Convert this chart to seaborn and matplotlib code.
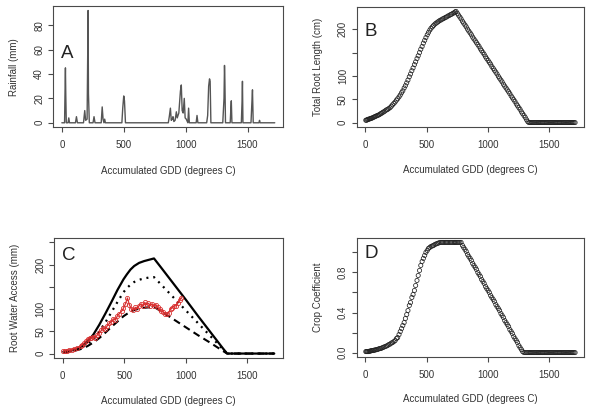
import matplotlib
matplotlib.use("Agg")
import matplotlib.pyplot as plt
import seaborn as sns
import pandas as pd

# ---------------- data ----------------
x_ticks = [0, 500, 1000, 1500]
x_tick_labels = ["0", "500", "1000", "1500"]
x_label = "Accumulated GDD (degrees C)"

# Panel A: daily rainfall against accumulated GDD
rain_gdd = [0, 22, 27, 29, 32, 36, 50, 56, 62, 110, 118, 126, 175, 185, 192, 204, 210, 212, 215, 222,
            252, 260, 268, 318, 326, 333, 340, 346, 352, 485, 492, 500, 506, 514,
            860, 868, 877, 884, 892, 898, 905, 915, 925, 932, 945, 958, 965, 972, 980, 989, 996, 1005,
            1018, 1024, 1030, 1085, 1092, 1099, 1170, 1178, 1186, 1193, 1198, 1204,
            1300, 1310, 1314, 1317, 1322, 1360, 1366, 1369, 1374, 1450, 1456, 1459, 1463,
            1528, 1535, 1540, 1546, 1592, 1597, 1602, 1720]
rain_mm = [0, 0, 34, 45, 22, 0, 0, 4, 0, 0, 5, 0, 0, 10, 2, 3, 68, 92, 24, 0,
           0, 5, 0, 0, 13, 3, 0, 3, 0, 0, 12, 22, 18, 0,
           0, 5, 12, 2, 3, 5, 1, 2, 9, 4, 8, 26, 31, 10, 8, 20, 4, 3,
           0, 12, 0, 0, 6, 0, 0, 6, 30, 36, 34, 0,
           0, 20, 47, 35, 0, 0, 13, 18, 0, 0, 18, 34, 0,
           0, 16, 27, 0, 0, 2, 0, 0]

# Panels B and D: daily accumulated GDD
gdd = [3, 9, 15, 21, 28, 35, 42, 49, 56, 64, 72, 80, 88, 97, 106, 115, 124, 133, 142, 151,
       161, 171, 181, 191, 202, 212, 222, 233, 243, 254, 264, 275, 285, 296, 306, 317, 327, 338, 348, 359,
       369, 380, 390, 401, 411, 422, 432, 443, 453, 464, 474, 485, 495, 506, 516, 527, 537, 548, 558, 569,
       579, 590, 600, 611, 621, 632, 642, 653, 663, 674, 684, 695, 705, 716, 726, 734, 742,
       752, 762, 773, 783, 794, 804, 815, 825, 836, 846, 857, 867, 878, 888, 899, 909, 920, 930, 941, 951,
       962, 972, 983, 993, 1004, 1014, 1025, 1035, 1046, 1056, 1067, 1077, 1088, 1098, 1109, 1119, 1130,
       1140, 1151, 1161, 1172, 1182, 1193, 1203, 1214, 1224, 1235, 1245, 1256, 1266, 1277, 1287, 1298, 1308,
       1319, 1329, 1338,
       1347, 1356, 1365, 1374, 1383, 1392, 1401, 1410, 1418, 1427, 1436, 1445, 1453, 1462, 1471, 1480, 1488,
       1497, 1506, 1515, 1523, 1532, 1541, 1550, 1558, 1567, 1576, 1585, 1593, 1602, 1611, 1620, 1628, 1637,
       1646, 1655, 1663, 1672, 1681, 1690, 1698, 1707, 1716]

root_length = [5, 5, 6, 7, 7, 8, 9, 9, 10, 11, 12, 13, 14, 15, 16, 17, 19, 20, 22, 23,
               25, 27, 28, 30, 32, 35, 38, 41, 44, 48, 51, 55, 59, 64, 68, 74, 79, 85, 91, 98,
               104, 111, 117, 124, 130, 137, 143, 150, 157, 163, 170, 176, 182, 188, 193, 198, 202, 205, 208, 211,
               213, 215, 217, 219, 220, 222, 223, 225, 226, 228, 229, 231, 232, 234, 235, 237, 238,
               234, 230, 226, 222, 217, 213, 209, 205, 200, 196, 192, 188, 183, 179, 175, 171, 167, 163, 158, 154,
               150, 146, 141, 137, 133, 129, 125, 120, 116, 112, 108, 104, 99, 95, 91, 87, 82,
               78, 74, 70, 66, 62, 57, 53, 49, 45, 40, 36, 32, 28, 23, 19, 15, 11,
               6, 2, 0,
               0, 0, 0, 0, 0, 0, 0, 0, 0, 0, 0, 0, 0, 0, 0, 0, 0,
               0, 0, 0, 0, 0, 0, 0, 0, 0, 0, 0, 0, 0, 0, 0, 0, 0,
               0, 0, 0, 0, 0, 0, 0, 0, 0]

crop_coef = [0.01, 0.01, 0.01, 0.01, 0.01, 0.015, 0.015, 0.02, 0.02, 0.02, 0.025, 0.025, 0.03, 0.03,
             0.035, 0.04, 0.04, 0.045, 0.05, 0.055,
             0.06, 0.065, 0.07, 0.08, 0.085, 0.095, 0.10, 0.11, 0.12, 0.14, 0.15, 0.18, 0.21, 0.24, 0.27,
             0.30, 0.34, 0.38, 0.42, 0.47,
             0.50, 0.55, 0.58, 0.62, 0.67, 0.72, 0.77, 0.82, 0.87, 0.91, 0.94, 0.97, 1.00, 1.02, 1.04, 1.05,
             1.06, 1.065, 1.07, 1.08,
             1.085, 1.09, 1.095, 1.10, 1.10, 1.10, 1.10, 1.10, 1.10, 1.10, 1.10, 1.10, 1.10, 1.10, 1.10,
             1.10, 1.10,
             1.10, 1.10, 1.10, 1.10, 1.07, 1.05, 1.03, 1.01, 0.98, 0.96, 0.94, 0.92, 0.89, 0.87, 0.85, 0.83,
             0.80, 0.78, 0.76, 0.73,
             0.71, 0.69, 0.66, 0.64, 0.62, 0.60, 0.57, 0.55, 0.53, 0.51, 0.48, 0.46, 0.44, 0.42, 0.39, 0.37,
             0.35,
             0.32, 0.30, 0.28, 0.26, 0.23, 0.21, 0.19, 0.16, 0.14, 0.12, 0.10, 0.07, 0.05, 0.03, 0.01, 0.0,
             0.0, 0.0, 0.0, 0.0,
             0, 0, 0, 0, 0, 0, 0, 0, 0, 0, 0, 0, 0, 0, 0, 0, 0,
             0, 0, 0, 0, 0, 0, 0, 0, 0, 0, 0, 0, 0, 0, 0, 0, 0,
             0, 0, 0, 0, 0, 0, 0, 0, 0]

# Panel C: modelled root water access (three scenarios) and observed
access_gdd = [4, 52, 106, 158, 202, 249, 297, 346, 395, 444, 493, 520, 550, 580, 620, 660, 700, 741,
              800, 900, 1000, 1100, 1200, 1300, 1335, 1400, 1500, 1600, 1718]
access_high = [4, 6, 10, 17, 27, 43, 65, 90, 116, 143, 167, 178, 189, 197, 204, 208, 211, 214,
               193, 157, 121, 84, 48, 12, 0, 0, 0, 0, 0]
access_mid = [3, 5, 8, 14, 22, 33, 50, 70, 93, 116, 138, 147, 155, 161, 166, 169, 171, 172,
              155, 126, 97, 68, 39, 10, 0, 0, 0, 0, 0]
access_low = [2, 4, 7, 11, 17, 25, 35, 47, 60, 72, 84, 89, 94, 98, 101, 103, 104, 105,
              95, 77, 59, 41, 24, 6, 0, 0, 0, 0, 0]

obs_gdd = [4, 18, 34, 52, 72, 94, 118, 144, 158, 173, 187, 202, 218, 233, 249, 264, 281, 297, 313, 330,
           346, 362, 379, 395, 411, 428, 444, 460, 477, 493, 509, 525, 541, 557, 573, 589, 605, 620, 636,
           651, 666, 681, 696, 711, 726, 741, 756, 771, 786, 801, 816, 831, 846, 861, 876, 890, 905, 920,
           934, 949, 963]
obs_access = [5, 6, 6, 8, 9, 11, 13, 16, 20, 24, 28, 33, 36, 34, 38, 36, 42, 46, 52, 58,
              55, 63, 68, 72, 78, 76, 85, 90, 95, 102, 112, 125, 110, 100, 98, 104, 101, 108, 112,
              106, 115, 110, 113, 108, 112, 106, 110, 104, 100, 96, 93, 90, 88, 92, 100, 103, 108, 107,
              114, 120, 126]

# ---------------- style ----------------
sns.set_style("ticks")
plt.rcParams["font.family"] = ["Liberation Sans", "DejaVu Sans"]

TXT = "#333333"
AXC = "#4a4a4a"

fig = plt.figure(figsize=(5.96, 4.15), dpi=100)
fig.patch.set_facecolor("white")
W, H = 596.0, 415.0


def box(l, t, r, b):
    return [l / W, 1 - b / H, (r - l) / W, (b - t) / H]


axA = fig.add_axes(box(53.3, 6, 283.3, 127.3))
axB = fig.add_axes(box(357, 7, 584, 127))
axC = fig.add_axes(box(54.3, 238, 283, 358))
axD = fig.add_axes(box(357, 238, 584, 357))


def style(ax, ylim, yticks, ylabels, ylabel, letter, letter_y):
    ax.set_xlim(-69, 1789)
    ax.set_ylim(*ylim)
    ax.set_xticks(x_ticks)
    ax.set_xticklabels(x_tick_labels)
    ax.set_yticks(yticks)
    ax.set_yticklabels(ylabels, rotation=90, va="center")
    ax.tick_params(axis="both", direction="out", length=3.6, width=0.8, color=AXC,
                   labelcolor=TXT, labelsize=7)
    ax.tick_params(axis="x", pad=5.5)
    ax.tick_params(axis="y", pad=3.0)
    for s in ax.spines.values():
        s.set_visible(True)
        s.set_linewidth(0.8)
        s.set_color(AXC)
    ax.set_xlabel(x_label, fontsize=7, color=TXT)
    ax.set_ylabel(ylabel, fontsize=7, color=TXT)
    ax.xaxis.set_label_coords(0.5, -0.315)
    ax.yaxis.set_label_coords(-0.15, 0.5)
    ax.text(0.032, letter_y, letter, transform=ax.transAxes, fontsize=13.5,
            ha="left", va="center", color="#222222")
    ax.set_facecolor("white")


# A
dfA = pd.DataFrame({"gdd": rain_gdd, "rain": rain_mm})
sns.lineplot(data=dfA, x="gdd", y="rain", ax=axA, color="#555555", lw=1.0,
             estimator=None, sort=False)
style(axA, (-3.7, 95.7), [0, 20, 40, 60, 80], ["0", "20", "40", "60", "80"],
      "Rainfall (mm)", "A", 0.61)

# B
dfB = pd.DataFrame({"gdd": gdd, "root": root_length})
sns.scatterplot(data=dfB, x="gdd", y="root", ax=axB, marker="o", s=9,
                fc="none", ec="#222222", linewidth=0.55)
style(axB, (-9.5, 247.5), [0, 50, 100, 150, 200], ["0", "50", "100", "", "200"],
      "Total Root Length (cm)", "B", 0.80)

# C
dfC = pd.DataFrame({"gdd": access_gdd, "high": access_high, "mid": access_mid, "low": access_low})
sns.lineplot(data=dfC, x="gdd", y="low", ax=axC, color="black", lw=1.5, estimator=None)
axC.lines[-1].set_dashes([3.4, 2.2])
sns.lineplot(data=dfC, x="gdd", y="mid", ax=axC, color="black", lw=1.6, estimator=None)
axC.lines[-1].set_dashes([0.9, 2.2])
sns.lineplot(data=dfC, x="gdd", y="high", ax=axC, color="black", lw=1.6, estimator=None)
dfO = pd.DataFrame({"gdd": obs_gdd, "obs": obs_access})
sns.lineplot(data=dfO, x="gdd", y="obs", ax=axC, color="#d83030", lw=0.9,
             marker="o", markersize=3, markerfacecolor="none",
             markeredgecolor="#d83030", markeredgewidth=0.6, estimator=None)
style(axC, (-10, 260), [0, 50, 100, 150, 200, 250], ["0", "50", "100", "", "200", ""],
      "Root Water Access (mm)", "C", 0.855)

# D
dfD = pd.DataFrame({"gdd": gdd, "kc": crop_coef})
sns.scatterplot(data=dfD, x="gdd", y="kc", ax=axD, marker="o", s=9,
                fc="none", ec="#222222", linewidth=0.55)
style(axD, (-0.044, 1.144), [0.0, 0.2, 0.4, 0.6, 0.8, 1.0],
      ["0.0", "", "0.4", "", "0.8", ""], "Crop Coefficient", "D", 0.866)

fig.savefig("out.png", dpi=100, facecolor="white")
